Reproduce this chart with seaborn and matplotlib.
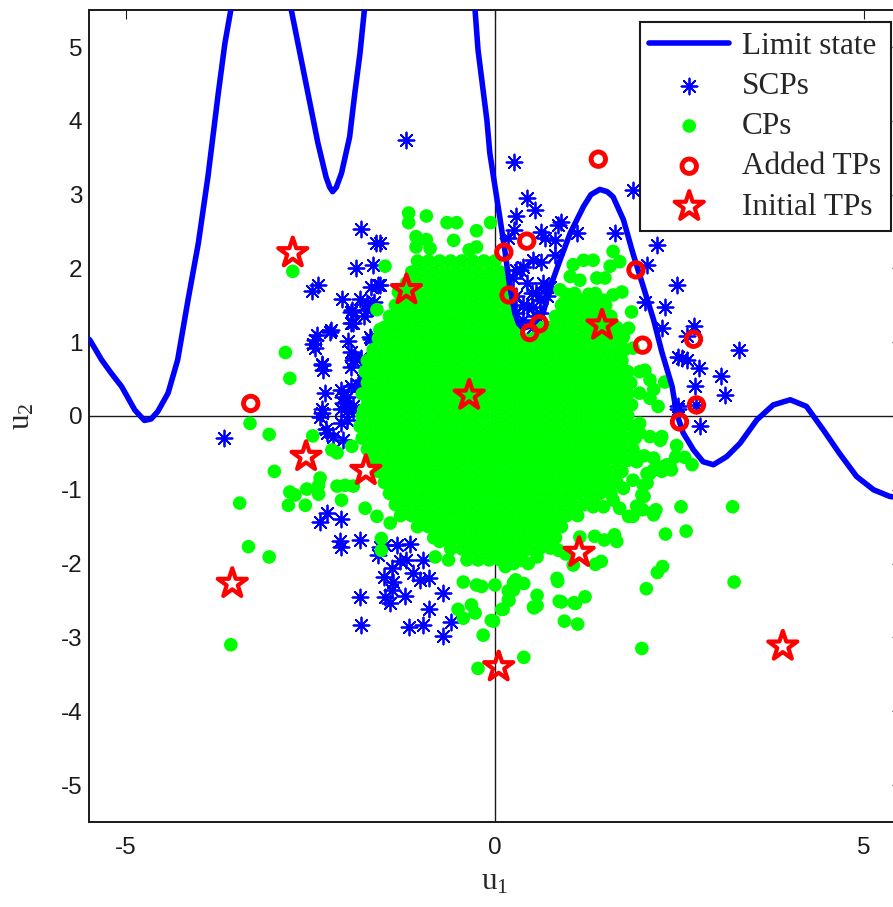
import matplotlib
matplotlib.use("Agg")
import matplotlib.pyplot as plt
from matplotlib.markers import MarkerStyle
from matplotlib.font_manager import FontProperties
import pandas as pd
import seaborn as sns

# ---------------- data ----------------
# limit-state curve vertices (u1, u2); points above 5.5 are off-plot connectors
ls_x = [-5.60, -5.49, -5.33, -5.20, -5.06, -4.88, -4.75, -4.66, -4.57, -4.43, -4.30, -4.16,
        -4.02, -3.89, -3.75, -3.66, -3.58, -3.50, -3.20, -2.82, -2.76, -2.67, -2.58, -2.49,
        -2.40, -2.29, -2.24, -2.20, -2.15, -2.08, -1.97, -1.90, -1.83, -1.77, -1.72, -1.00,
        -0.32, -0.27, -0.23, -0.11, -0.07, 0.00, 0.07, 0.14, 0.20, 0.27, 0.32, 0.38, 0.45,
        0.55, 0.65, 0.75, 0.88, 1.02, 1.20, 1.30, 1.42, 1.52, 1.60, 1.74, 1.87, 2.01, 2.15,
        2.26, 2.40, 2.46, 2.55, 2.69, 2.82, 2.96, 3.14, 3.32, 3.55, 3.77, 4.00, 4.22, 4.45,
        4.67, 4.90, 5.13, 5.35, 5.60]
ls_y = [1.12, 1.03, 0.76, 0.58, 0.40, 0.08, -0.06, -0.04, 0.06, 0.31, 0.76, 1.57,
        2.34, 3.24, 4.37, 5.05, 5.50, 6.10, 7.00, 5.90, 5.50, 5.05, 4.60, 4.15,
        3.70, 3.24, 3.10, 3.04, 3.10, 3.29, 3.78, 4.37, 4.91, 5.50, 6.00, 8.00,
        6.00, 5.50, 4.96, 4.01, 3.56, 3.11, 2.66, 2.20, 1.75, 1.39, 1.25, 1.19, 1.21,
        1.28, 1.39, 1.75, 2.11, 2.48, 2.84, 3.00, 3.07, 3.04, 2.97, 2.66, 2.20, 1.75, 1.30,
        0.87, 0.40, 0.04, -0.23, -0.46, -0.62, -0.66, -0.55, -0.37, -0.05, 0.15, 0.22, 0.13, -0.19,
        -0.51, -0.82, -1.00, -1.09, -1.12]

# SCPs (blue asterisks)
scp_pts = [
    (-1.81, 2.53), (-1.61, 2.35), (-1.88, 2.00), (-1.65, 2.04), (-2.40, 1.78), (-2.48, 1.69),
    (-1.68, 1.75), (-1.59, 1.78), (-2.07, 1.58), (-1.83, 1.59), (-1.64, 1.55), (-1.95, 1.41),
    (-1.74, 1.44), (-1.77, 1.35), (-1.95, 1.26), (-2.22, 1.16), (-2.41, 1.10), (-2.47, 0.98),
    (-2.44, 0.92), (-1.99, 1.01), (-1.68, 1.05), (-1.95, 0.87), (-1.90, 0.78), (-1.81, 0.78),
    (-2.35, 0.71), (-2.33, 0.62), (-1.95, 0.67), (-1.72, 0.62), (-2.31, 0.31), (-2.08, 0.35),
    (-2.01, 0.26), (-1.95, 0.40), (-1.86, 0.42), (-1.79, 0.49), (-2.35, 0.10), (-2.35, 0.04),
    (-2.08, 0.10), (-1.99, 0.08), (-2.08, -0.10), (-2.29, -0.17), (-3.67, -0.30), (-2.37, -0.01),
    (-2.28, -0.23), (-2.06, -0.33), (-2.19, -0.28), (-2.01, -0.05), (-1.92, 0.13), (-1.83, 0.40),
    (-1.74, 0.53), (-1.69, 1.07), (-1.92, 0.76), (-2.06, 0.26), (-2.44, 1.03), (-2.24, 1.14),
    (-2.35, 0.69), (-1.74, 1.53), (-1.94, 1.44), (-1.93, 1.26), (-1.56, 2.34), (-1.56, 1.78),
    (-2.06, 0.17), (-1.92, 0.08),
    (-2.28, -1.32), (-2.37, -1.43), (-2.08, -1.39), (-2.10, -1.70), (-2.08, -1.77), (-1.83, -1.68),
    (-1.58, -1.88), (-1.49, -1.75), (-1.33, -1.75), (-1.15, -1.73), (-1.29, -1.97), (-1.20, -1.95),
    (-1.40, -2.06), (-1.11, -2.13), (-0.97, -1.95), (-1.51, -2.18), (-1.38, -2.25), (-1.02, -2.22),
    (-0.90, -2.20), (-1.40, -2.36), (-1.83, -2.45), (-1.49, -2.45), (-1.22, -2.44), (-1.42, -2.54),
    (-0.70, -2.40), (-0.89, -2.62), (-1.81, -2.83), (-1.17, -2.86), (-0.98, -2.83), (-0.59, -2.79),
    (-0.70, -2.98), (-1.56, -1.77),
    (-1.20, 3.74), (0.26, 3.44), (0.43, 2.95), (0.54, 2.79), (0.29, 2.71), (0.90, 2.63),
    (0.86, 2.59), (0.26, 2.52), (0.63, 2.50), (1.11, 2.48), (0.68, 2.41), (0.81, 2.38),
    (0.18, 2.41), (1.63, 2.48), (2.19, 2.32), (1.87, 3.06), (0.52, 2.11), (0.63, 2.09),
    (0.81, 2.18), (0.29, 1.98), (0.38, 2.02), (0.25, 1.87), (0.43, 1.80), (0.65, 1.80),
    (0.75, 1.75), (0.50, 1.66), (0.61, 1.57), (0.38, 1.50), (0.70, 1.62), (0.52, 1.48),
    (0.29, 1.39), (0.56, 1.35), (2.06, 2.05), (2.30, 1.48), (2.26, 1.19), (2.46, 1.78),
    (2.03, 1.55), (2.48, 0.80), (0.34, 1.98), (0.29, 1.62), (0.43, 1.48), (0.56, 1.66),
    (0.70, 1.75), (0.61, 1.39), (0.38, 1.30), (0.52, 1.21),
    (2.69, 1.22), (2.60, 1.08), (2.53, 0.78), (2.60, 0.76), (2.76, 0.65), (3.30, 0.89),
    (3.06, 0.54), (2.71, 0.40), (3.11, 0.28), (2.48, 0.10), (2.73, 0.15), (2.78, -0.14),
    (2.48, 0.13),
]

# CPs: dense core, one list of u1 values per u2 row
cp_core_y = [2.10, 1.95, 1.80, 1.65, 1.50, 1.35, 1.20, 1.05, 0.90, 0.75, 0.60, 0.45, 0.30,
             0.15, 0.00, -0.15, -0.30, -0.45, -0.60, -0.75, -0.90, -1.05, -1.20, -1.35,
             -1.50, -1.65, -1.80, -1.95]
cp_core_x = [
    [-1.05, -0.9, -0.75, -0.6, -0.45, -0.3, -0.15, 0.0],
    [-1.13, -0.98, -0.83, -0.68, -0.53, -0.38, -0.23, -0.08, 0.07],
    [-1.2, -1.05, -0.9, -0.75, -0.6, -0.45, -0.3, -0.15, 0.0, 0.11],
    [-1.28, -1.13, -0.98, -0.83, -0.68, -0.53, -0.38, -0.23, -0.08, 0.07, 0.14, 0.97, 1.27],
    [-1.35, -1.2, -1.05, -0.9, -0.75, -0.6, -0.45, -0.3, -0.15, 0.0, 0.15, 0.9, 1.05, 1.2, 1.35, 1.5],
    [-1.43, -1.28, -1.13, -0.98, -0.83, -0.68, -0.53, -0.38, -0.23, -0.08, 0.07, 0.2, 0.82, 0.97,
     1.12, 1.27, 1.42, 1.57],
    [-1.5, -1.35, -1.2, -1.05, -0.9, -0.75, -0.6, -0.45, -0.3, -0.15, 0.0, 0.15, 0.27, 0.6, 0.75,
     0.9, 1.05, 1.2, 1.35, 1.5, 1.65],
    [-1.58, -1.43, -1.28, -1.13, -0.98, -0.83, -0.68, -0.53, -0.38, -0.23, -0.08, 0.07, 0.22, 0.37,
     0.52, 0.67, 0.82, 0.97, 1.12, 1.27, 1.42, 1.57, 1.69],
    [-1.65, -1.5, -1.35, -1.2, -1.05, -0.9, -0.75, -0.6, -0.45, -0.3, -0.15, 0.0, 0.15, 0.3, 0.45,
     0.6, 0.75, 0.9, 1.05, 1.2, 1.35, 1.5, 1.65, 1.76],
    [-1.73, -1.58, -1.43, -1.28, -1.13, -0.98, -0.83, -0.68, -0.53, -0.38, -0.23, -0.08, 0.07, 0.22,
     0.37, 0.52, 0.67, 0.82, 0.97, 1.12, 1.27, 1.42, 1.57, 1.72],
    [-1.76, -1.65, -1.5, -1.35, -1.2, -1.05, -0.9, -0.75, -0.6, -0.45, -0.3, -0.15, 0.0, 0.15, 0.3,
     0.45, 0.6, 0.75, 0.9, 1.05, 1.2, 1.35, 1.5, 1.65, 1.8],
    [-1.73, -1.58, -1.43, -1.28, -1.13, -0.98, -0.83, -0.68, -0.53, -0.38, -0.23, -0.08, 0.07, 0.22,
     0.37, 0.52, 0.67, 0.82, 0.97, 1.12, 1.27, 1.42, 1.57, 1.72, 1.84],
    [-1.8, -1.65, -1.5, -1.35, -1.2, -1.05, -0.9, -0.75, -0.6, -0.45, -0.3, -0.15, 0.0, 0.15, 0.3,
     0.45, 0.6, 0.75, 0.9, 1.05, 1.2, 1.35, 1.5, 1.65, 1.8],
    [-1.73, -1.58, -1.43, -1.28, -1.13, -0.98, -0.83, -0.68, -0.53, -0.38, -0.23, -0.08, 0.07, 0.22,
     0.37, 0.52, 0.67, 0.82, 0.97, 1.12, 1.27, 1.42, 1.57, 1.72, 1.85],
    [-1.8, -1.65, -1.5, -1.35, -1.2, -1.05, -0.9, -0.75, -0.6, -0.45, -0.3, -0.15, 0.0, 0.15, 0.3,
     0.45, 0.6, 0.75, 0.9, 1.05, 1.2, 1.35, 1.5, 1.65, 1.8],
    [-1.73, -1.58, -1.43, -1.28, -1.13, -0.98, -0.83, -0.68, -0.53, -0.38, -0.23, -0.08, 0.07, 0.22,
     0.37, 0.52, 0.67, 0.82, 0.97, 1.12, 1.27, 1.42, 1.57, 1.72, 1.87],
    [-1.8, -1.65, -1.5, -1.35, -1.2, -1.05, -0.9, -0.75, -0.6, -0.45, -0.3, -0.15, 0.0, 0.15, 0.3,
     0.45, 0.6, 0.75, 0.9, 1.05, 1.2, 1.35, 1.5, 1.65, 1.8, 1.9],
    [-1.73, -1.58, -1.43, -1.28, -1.13, -0.98, -0.83, -0.68, -0.53, -0.38, -0.23, -0.08, 0.07, 0.22,
     0.37, 0.52, 0.67, 0.82, 0.97, 1.12, 1.27, 1.42, 1.57, 1.72, 1.87],
    [-1.65, -1.5, -1.35, -1.2, -1.05, -0.9, -0.75, -0.6, -0.45, -0.3, -0.15, 0.0, 0.15, 0.3,
     0.45, 0.6, 0.75, 0.9, 1.05, 1.2, 1.35, 1.5, 1.65, 1.8],
    [-1.58, -1.43, -1.28, -1.13, -0.98, -0.83, -0.68, -0.53, -0.38, -0.23, -0.08, 0.07, 0.22,
     0.37, 0.52, 0.67, 0.82, 0.97, 1.12, 1.27, 1.42, 1.57, 1.72],
    [-1.5, -1.35, -1.2, -1.05, -0.9, -0.75, -0.6, -0.45, -0.3, -0.15, 0.0, 0.15, 0.3,
     0.45, 0.6, 0.75, 0.9, 1.05, 1.2, 1.35, 1.5, 1.65],
    [-1.43, -1.28, -1.13, -0.98, -0.83, -0.68, -0.53, -0.38, -0.23, -0.08, 0.07, 0.22,
     0.37, 0.52, 0.67, 0.82, 0.97, 1.12, 1.27, 1.42, 1.57],
    [-1.35, -1.2, -1.05, -0.9, -0.75, -0.6, -0.45, -0.3, -0.15, 0.0, 0.15, 0.3,
     0.45, 0.6, 0.75, 0.9, 1.05, 1.2, 1.35],
    [-1.28, -1.13, -0.98, -0.83, -0.68, -0.53, -0.38, -0.23, -0.08, 0.07, 0.22,
     0.37, 0.52, 0.67, 0.82, 0.97, 1.12],
    [-1.05, -0.9, -0.75, -0.6, -0.45, -0.3, -0.15, 0.0, 0.15, 0.3, 0.45, 0.6, 0.75, 0.9],
    [-0.83, -0.68, -0.53, -0.38, -0.23, -0.08, 0.07, 0.22, 0.37, 0.52, 0.67, 0.82],
    [-0.6, -0.45, -0.3, -0.15, 0.0, 0.15, 0.3, 0.45, 0.6],
    [-0.38, -0.23, -0.08, 0.07, 0.22, 0.37],
]

# CPs: scattered points around the core
cp_edge = [
    (-2.74, 1.96), (-2.84, 0.86), (-2.78, 0.51), (-3.32, -0.10), (-3.06, -0.25), (-2.47, -0.27),
    (-2.99, -0.75), (-3.46, -1.18), (-3.34, -1.77), (-3.06, -1.91), (-3.58, -3.10),
    (-2.37, -0.84), (-2.39, -0.94), (-2.78, -1.03), (-2.71, -1.07), (-2.55, -0.99), (-2.39, -1.06),
    (-2.80, -1.21), (-2.57, -1.21), (-2.14, -0.95), (-2.08, -1.14), (-2.03, -0.94), (-1.92, -0.95),
    (-2.21, -0.46), (-2.14, -0.50), (-1.94, -0.41), (-1.76, -1.25), (-1.60, -1.36), (-1.54, -1.66),
    (-1.42, -1.45), (-1.54, -1.82), (-1.83, -0.14), (-1.78, 0.08), (-1.72, 0.22),
    (-0.75, -1.70), (-0.81, -1.91), (-0.63, -1.95), (-0.43, -2.25), (-0.25, -2.29), (-0.50, -2.62),
    (-0.43, -2.74), (-0.27, -2.67), (-0.16, -2.97), (-0.23, -3.42), (0.39, -3.27), (-0.32, -2.56),
    (-0.02, -2.78), (0.11, -2.62), (0.19, -2.50), (0.53, -2.60), (0.57, -2.57), (0.90, -2.52),
    (1.09, -2.54), (0.94, -2.78), (1.12, -2.82), (1.99, -3.15),
    (3.22, -1.23), (3.24, -2.25), (2.52, -1.23), (2.59, -1.56), (2.31, -1.60), (2.27, -2.04),
    (2.20, -2.12), (2.05, -2.34), (2.15, -1.34), (2.18, -1.27), (2.00, -1.27), (1.92, -1.22),
    (1.81, -1.36), (2.02, -1.09), (1.69, -1.25), (1.62, -1.61), (1.65, -1.70), (1.48, -1.68),
    (1.35, -1.63), (1.44, -1.97), (1.36, -2.01), (1.22, -2.45), (1.07, -2.53), (0.87, -2.51),
    (0.85, -2.24), (0.57, -2.43), (0.52, -2.59), (0.18, -2.49), (0.09, -2.62), (-0.05, -2.77),
    (0.25, -2.36), (0.00, -2.29), (0.39, -2.27), (0.28, -2.22), (1.06, -2.02), (0.84, -2.20),
    (2.45, -0.55), (2.67, -0.66), (2.57, -0.56), (2.46, -0.40), (2.33, -0.66), (2.39, -0.73),
    (2.27, -0.69), (2.15, -0.73), (2.06, -0.78), (2.01, -0.94), (1.87, -0.87), (2.15, -0.57),
    (2.02, -0.54), (1.92, -0.62), (1.60, -1.14), (1.33, -1.23), (1.47, -1.23), (1.74, -0.98),
    (1.15, -1.64), (0.96, -1.87), (0.86, -1.82), (0.75, -1.79), (0.57, -1.91), (0.45, -2.00),
    (0.34, -1.95), (0.25, -2.00), (0.14, -2.04), (0.07, -1.91), (0.25, -2.26), (0.18, -2.37),
    (-0.18, -2.31),
    (-1.17, 2.75), (-1.17, 2.62), (-0.93, 2.71), (-0.65, 2.62), (-0.52, 2.62), (-0.25, 2.51),
    (-0.06, 2.62), (-1.07, 2.43), (-0.93, 2.39), (-0.56, 2.38), (-0.35, 2.25), (-0.25, 2.29),
    (-1.07, 2.29), (-0.88, 2.27), (-1.49, 2.03), (-1.31, 1.68), (-1.60, 1.44), (-1.56, 1.17),
    (-1.65, 0.85),
    (1.60, 2.23), (1.20, 2.11), (1.33, 2.11), (1.06, 2.05), (1.56, 2.03), (1.69, 2.09),
    (1.02, 1.89), (1.15, 1.84), (1.38, 1.87), (1.49, 1.87), (1.72, 1.68), (1.60, 1.64),
    (1.36, 1.66), (1.08, 1.66), (1.20, 1.57), (1.47, 1.57), (0.88, 1.71), (0.93, 1.53),
    (1.06, 1.41), (1.33, 1.46), (1.85, 1.41), (1.81, 1.19), (1.74, 1.07), (1.87, 0.92),
    (1.96, 0.60), (2.10, 0.49), (1.96, 0.31), (2.10, 0.24), (2.21, 0.13), (1.96, -0.10),
    (1.96, -0.23), (2.10, -0.28), (2.26, -0.28), (2.37, -0.66), (2.26, -0.75), (2.10, -0.78),
    (2.06, -0.91), (1.99, -1.07), (2.15, -1.30), (1.87, -1.36), (2.30, 0.46), (2.03, 0.62),
    (2.15, 0.36), (2.24, -0.33),
]

# Added TPs (red circles) and Initial TPs (red stars)
added_tp = [(1.40, 3.48), (0.43, 2.37), (0.12, 2.22), (0.19, 1.64), (0.60, 1.25), (0.47, 1.13),
            (1.91, 1.98), (2.00, 0.96), (2.69, 1.04), (2.73, 0.15), (2.50, -0.08), (-3.31, 0.17)]
initial_tp = [(-2.74, 2.21), (-1.20, 1.71), (-0.35, 0.28), (1.45, 1.23), (-2.56, -0.55),
              (-1.75, -0.74), (-3.56, -2.27), (1.14, -1.85), (0.05, -3.40), (3.90, -3.12)]

labels = ["Limit state", "SCPs", "CPs", "Added TPs", "Initial TPs"]

# ---------------- build frames ----------------
ls_df = pd.DataFrame({"u1": ls_x, "u2": ls_y})
scp_df = pd.DataFrame(scp_pts, columns=["u1", "u2"])
core_rows = [(x, y) for y, xs in zip(cp_core_y, cp_core_x) for x in xs]
cp_df = pd.DataFrame(core_rows + cp_edge, columns=["u1", "u2"])
add_df = pd.DataFrame(added_tp, columns=["u1", "u2"])
ini_df = pd.DataFrame(initial_tp, columns=["u1", "u2"])

# ---------------- style ----------------
sns.set_theme(style="white")
plt.rcParams["font.family"] = ["Liberation Sans", "DejaVu Sans"]
plt.rcParams["mathtext.default"] = "regular"
plt.rcParams["axes.unicode_minus"] = False

W, H = 893, 907
fig = plt.figure(figsize=(W / 100, H / 100), dpi=100)
ax = fig.add_axes([89.1 / W, (H - 821.9) / H, 811.8 / W, 811.8 / H])

BLUE, GREEN, RED = "#0000ff", "#00ff00", "#ff0000"

ax.axhline(0, color="k", lw=1.0, zorder=1)
ax.axvline(0, color="k", lw=1.0, zorder=1)

sns.scatterplot(data=scp_df, x="u1", y="u2", ax=ax, marker=(8, 2, 0), s=11.5 ** 2,
                color=BLUE, linewidth=1.3, label=labels[1], zorder=2)
sns.scatterplot(data=cp_df, x="u1", y="u2", ax=ax, marker="o", s=9.8 ** 2,
                color=GREEN, edgecolor="none", linewidth=0, label=labels[2], zorder=2.5)
sns.lineplot(data=ls_df, x="u1", y="u2", ax=ax, sort=False, estimator=None,
             color=BLUE, linewidth=4, label=labels[0], zorder=3)
sns.scatterplot(data=add_df, x="u1", y="u2", ax=ax, marker="o", s=10.4 ** 2,
                facecolor="none", edgecolor=RED, linewidth=3.5, label=labels[3], zorder=4)
sns.scatterplot(data=ini_df, x="u1", y="u2", ax=ax,
                marker=MarkerStyle("*", joinstyle="miter"), s=22 ** 2,
                facecolor="none", edgecolor=RED, linewidth=3.0, label=labels[4], zorder=5)

ax.set_xlim(-5.5, 5.5)
ax.set_ylim(-5.5, 5.5)
ax.set_xticks([-5, 0, 5])
ax.set_yticks(list(range(-5, 6)))
ax.tick_params(direction="in", length=6.5, width=0.8, top=True, right=True,
               labelsize=17.5, colors="k")
ax.tick_params(axis="x", pad=11)
ax.tick_params(axis="y", pad=5)
for sp in ax.spines.values():
    sp.set_visible(True)
    sp.set_color("k")
    sp.set_linewidth(1.4)
ax.grid(False)

serif = FontProperties(family=["Liberation Serif", "DejaVu Serif"], size=22.5)
ax.set_xlabel(r"$\mathregular{u_1}$", fontproperties=serif, labelpad=6)
ax.set_ylabel(r"$\mathregular{u_2}$", fontproperties=serif, labelpad=17)

handles, labs = ax.get_legend_handles_labels()
order = [labs.index(l) for l in labels]
leg = ax.legend([handles[i] for i in order], [labs[i] for i in order],
                loc="upper right", bbox_to_anchor=(890.7 / W, 1 - 22.3 / H),
                bbox_transform=fig.transFigure, borderaxespad=0, frameon=True,
                fancybox=False, framealpha=1, edgecolor="k", prop=serif,
                handlelength=2.55, handletextpad=0.42, labelspacing=0.36, borderpad=0.3)
leg.get_frame().set_linewidth(1.5)
leg.set_zorder(10)

fig.savefig("out.png", dpi=100)
